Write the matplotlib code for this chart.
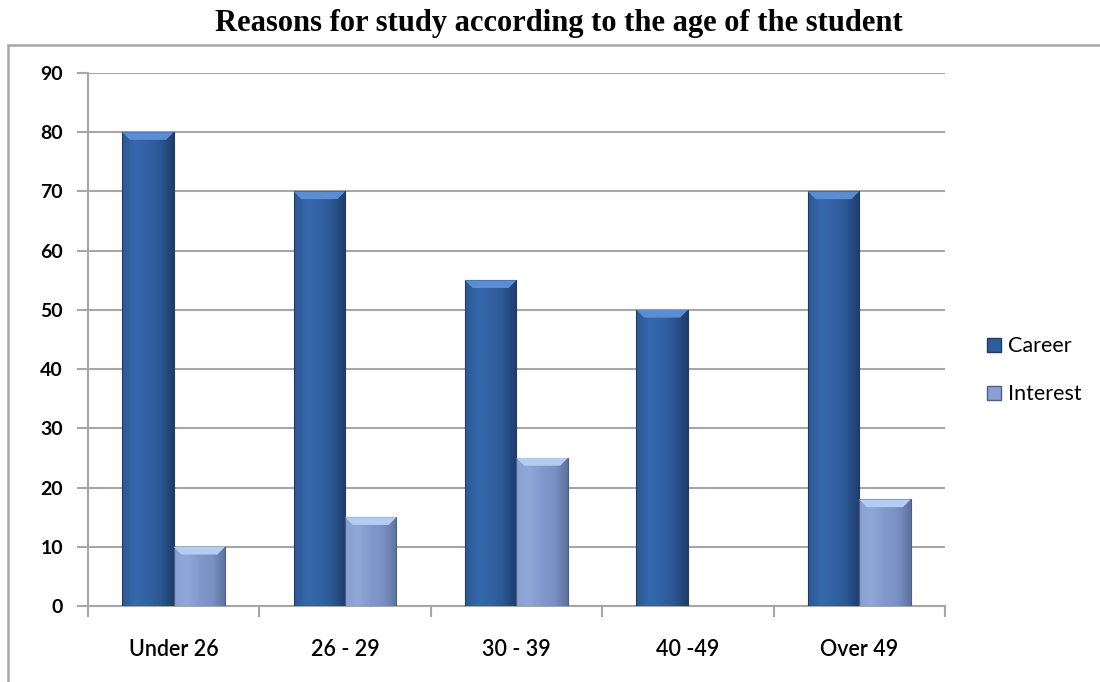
import numpy as np
import matplotlib.pyplot as plt
from matplotlib.patches import Rectangle, Polygon
from matplotlib.colors import LinearSegmentedColormap

# Survey data
groups = ['Under 26', '26 - 29', '30 - 39', '40 -49', 'Over 49']
career = [80, 70, 55, 50, 70]
interest = [10, 15, 25, 0, 18]

plt.rcParams['font.family'] = ['Lato', 'DejaVu Sans']

fig = plt.figure(figsize=(11, 6.82), dpi=100)
ax = fig.add_axes([0.08, 0.1114, 0.779, 0.7816])

# outer chart frame
fig.patches.append(Rectangle((8 / 1100, -0.05), 1.1, 0.984, transform=fig.transFigure,
                             fill=False, edgecolor='#a6a6a6', linewidth=1.8))

fig.text(0.508, 0.966, 'Reasons for study according to the age of the student',
         ha='center', va='center', fontsize=22, fontweight='bold',
         family='Liberation Serif')

x = np.arange(len(groups))
w = 0.3

cm_career = LinearSegmentedColormap.from_list('c', ['#2c5894', '#3668ad', '#3262a4', '#2b5693', '#1e3d6b'])
cm_interest = LinearSegmentedColormap.from_list('i', ['#8aa1d3', '#90a7d8', '#8298cb', '#7b91c4', '#5d729d'])
grad = np.linspace(0, 1, 64).reshape(1, -1)


def shaded_bar(x0, h, cmap, top, edge):
    if h <= 0:
        return
    r = Rectangle((x0, 0), w, h, facecolor='none', edgecolor=edge, linewidth=0.8, zorder=4)
    ax.add_patch(r)
    im = ax.imshow(grad, cmap=cmap, aspect='auto', extent=(x0, x0 + w, 0, h),
                   zorder=3, interpolation='bicubic')
    im.set_clip_path(r)
    # bevelled top
    d = 0.045
    ax.add_patch(Polygon([(x0, h), (x0 + w, h), (x0 + w - d, h - 1.3), (x0 + d, h - 1.3)],
                         closed=True, facecolor=top, edgecolor='none', zorder=4))


for i in range(len(groups)):
    shaded_bar(x[i] - w, career[i], cm_career, '#5b8dd4', '#1f3a63')
    shaded_bar(x[i], interest[i], cm_interest, '#b4cdf3', '#4d5f85')

ax.set_xlim(-0.5, len(groups) - 0.5)
ax.set_ylim(0, 90)
ax.set_yticks(range(0, 91, 10))
ax.set_xticks(np.arange(-0.5, len(groups), 1))
ax.set_xticklabels([])
ax.set_xticks(x, minor=True)
ax.set_xticklabels(groups, minor=True)
ax.tick_params(axis='x', which='minor', length=0, pad=24, labelsize=15.5)
ax.tick_params(axis='x', which='major', length=8, color='#a6a6a6', width=1.5, direction='out')
ax.tick_params(axis='y', length=8, color='#a6a6a6', width=1.5, labelsize=14, pad=10)
for lab in ax.get_yticklabels():
    lab.set_fontweight('bold')
for lab in ax.get_xticklabels(minor=True):
    lab.set_fontweight('semibold')

ax.yaxis.grid(True, color='#a6a6a6', linewidth=1.5)
ax.set_axisbelow(True)
for s in ['top', 'right']:
    ax.spines[s].set_visible(False)
for s in ['left', 'bottom']:
    ax.spines[s].set_color('#a6a6a6')
    ax.spines[s].set_linewidth(1.5)

handles = [Rectangle((0, 0), 1, 1, facecolor='#2f5d9c', edgecolor='#1f3a63'),
           Rectangle((0, 0), 1, 1, facecolor='#8aa0d2', edgecolor='#4d5f85')]
fig.legend(handles, ['Career', 'Interest'], loc='center left',
           bbox_to_anchor=(0.88, 0.457), frameon=False, fontsize=15.5,
           handlelength=0.65, handleheight=0.65, handletextpad=0.3, labelspacing=1.3)

fig.savefig('out.png', dpi=100)
